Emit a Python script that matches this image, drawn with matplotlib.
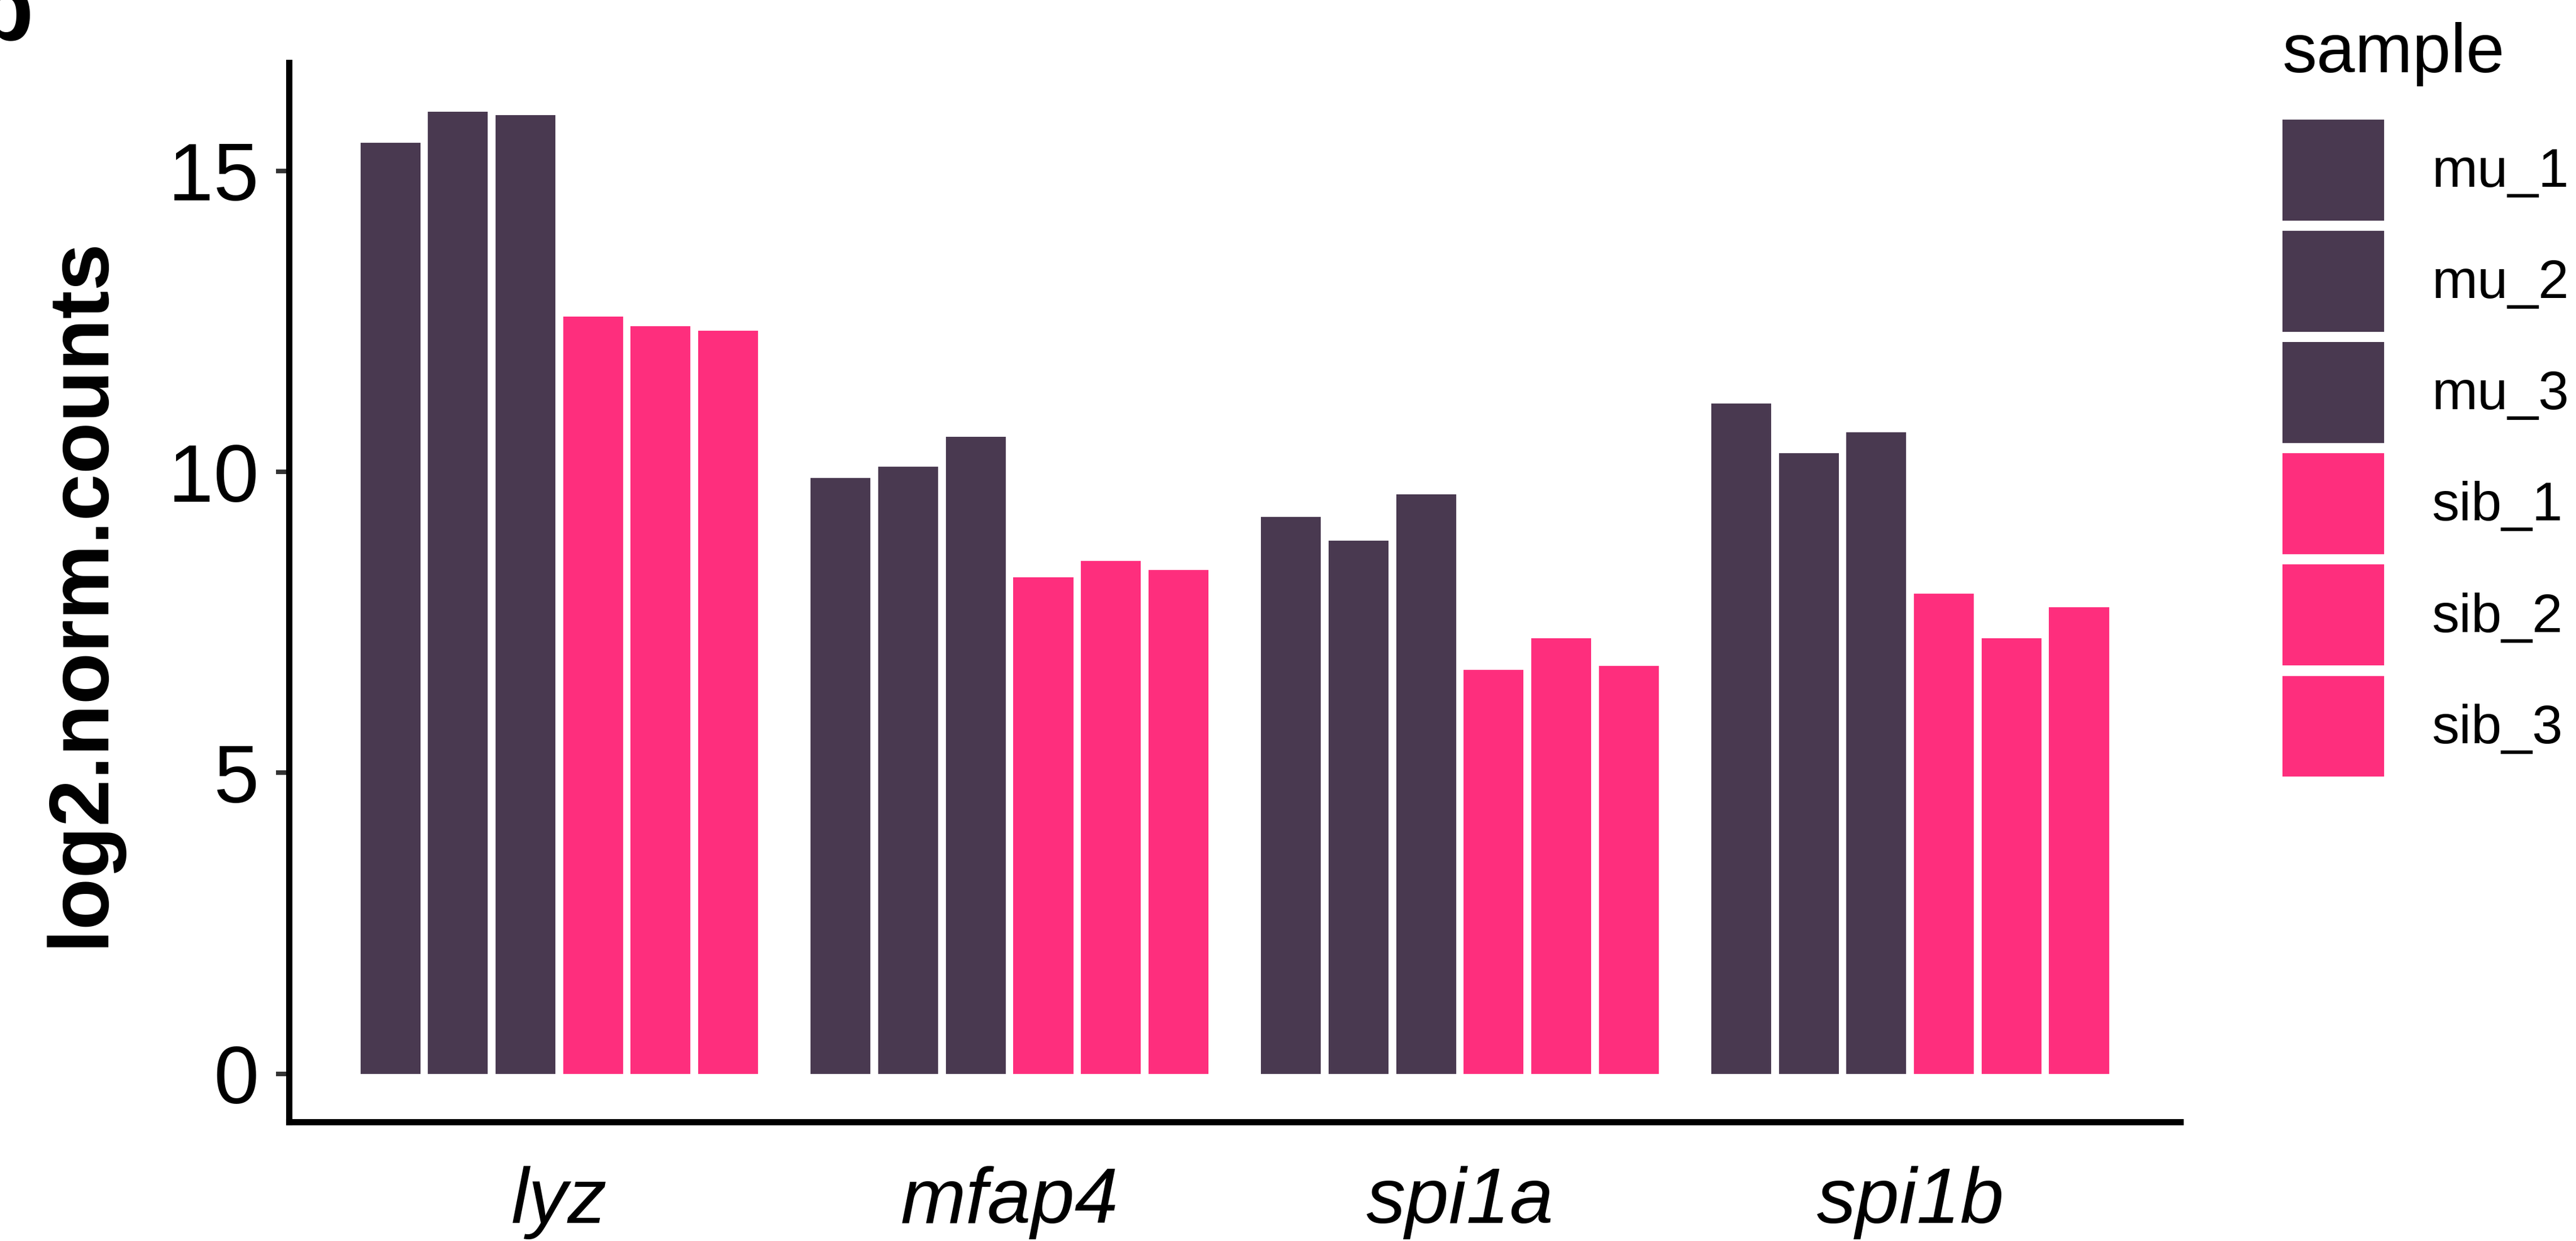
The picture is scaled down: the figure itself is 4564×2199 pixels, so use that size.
import numpy as np
import matplotlib
matplotlib.use("Agg")
import matplotlib.pyplot as plt
from matplotlib.patches import Patch

plt.rcParams['font.family'] = ['Liberation Sans', 'DejaVu Sans']

# data
genes = ["lyz", "mfap4", "spi1a", "spi1b"]
samples = ["mu_1", "mu_2", "mu_3", "sib_1", "sib_2", "sib_3"]
mu_1 = [15.47, 9.90, 9.25, 11.14]
mu_2 = [15.98, 10.09, 8.86, 10.31]
mu_3 = [15.93, 10.58, 9.63, 10.66]
sib_1 = [12.58, 8.25, 6.71, 7.98]
sib_2 = [12.42, 8.52, 7.24, 7.24]
sib_3 = [12.35, 8.37, 6.78, 7.75]
y_ticks = [0, 5, 10, 15]

dark = "#493950"
pink = "#FE2E7D"
colors = [dark, dark, dark, pink, pink, pink]
values = [mu_1, mu_2, mu_3, sib_1, sib_2, sib_3]

fig = plt.figure(figsize=(22.82, 10.995), dpi=200)
ax = fig.add_axes([0.1122, 0.0960, 0.7342, 0.8535])

x = np.arange(len(genes))
step = 0.15
bw = 0.133
for i, (s, v, c) in enumerate(zip(samples, values, colors)):
    ax.bar(x + (i - 2.5) * step, v, width=bw, color=c, linewidth=0, label=s)

ax.set_xlim(-0.6, 3.6)
ax.set_ylim(-0.8, 16.8)
ax.set_yticks(y_ticks)
ax.set_xticks(x)
ax.set_xticklabels(genes, fontsize=50, style='italic')
ax.tick_params(axis='y', labelsize=52, length=8.3, width=2.9, color='#333333', pad=11)
ax.tick_params(axis='x', length=0, pad=28)

for side in ['top', 'right']:
    ax.spines[side].set_visible(False)
for side in ['left', 'bottom']:
    ax.spines[side].set_linewidth(4)
    ax.spines[side].set_capstyle('projecting')

ax.set_ylabel("log2.norm.counts", fontsize=54, fontweight='bold', labelpad=30)

# legend: title placed separately so keys line up with the reference
fig.text(0.886, 0.9418, "sample", fontsize=44, ha='left', va='baseline')
handles = [Patch(facecolor=c, edgecolor='none') for c in colors]
fig.legend(handles, samples, loc='upper left',
           bbox_to_anchor=(0.886, 0.9036), frameon=False,
           fontsize=35, handlelength=1.85, handleheight=2.45, labelspacing=0.19,
           handletextpad=0.87, borderpad=0, borderaxespad=0)

# clipped panel letter in the corner
fig.text(-0.0095, 0.968, "b", fontsize=60, fontweight='bold', ha='left', va='baseline')

fig.savefig("out.png", dpi=200)
